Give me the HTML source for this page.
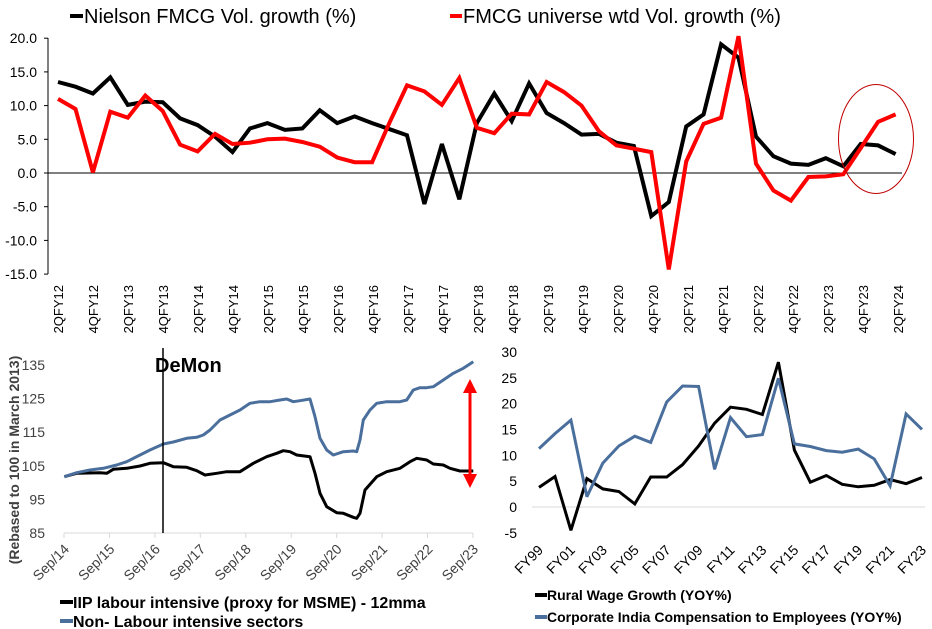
<!DOCTYPE html>
<html><head><meta charset="utf-8"><style>
body{margin:0;background:#fff;}
svg{display:block;font-family:"Liberation Sans",sans-serif;}
</style></head><body>
<svg id="s" width="932" height="629" viewBox="0 0 932 629" xmlns="http://www.w3.org/2000/svg">
<line x1="70" y1="16" x2="83" y2="16" stroke="#000" stroke-width="4"/>
<text x="84" y="23" font-size="20">Nielson FMCG Vol. growth (%)</text>
<line x1="450" y1="16" x2="462" y2="16" stroke="#f00" stroke-width="4"/>
<text x="463" y="23" font-size="20">FMCG universe wtd Vol. growth (%)</text>
<g id="top"></g>
<ellipse cx="876" cy="139" rx="37.5" ry="54.5" fill="none" stroke="#c00000" stroke-width="1"/>
<g id="bl"></g>
<line x1="163" y1="348" x2="163" y2="533" stroke="#000" stroke-width="1.5"/>
<text x="155" y="372" font-size="20" font-weight="bold">DeMon</text>
<text transform="translate(19,460) rotate(-90)" text-anchor="middle" font-size="14" font-weight="bold" fill="#404040">(Rebased to 100 in March 2013)</text>
<line x1="470" y1="388" x2="470" y2="480" stroke="#f00" stroke-width="3"/>
<polygon points="470,379 463,393 477,393" fill="#f00"/>
<polygon points="470,488 463,474 477,474" fill="#f00"/>
<line x1="60" y1="602" x2="73" y2="602" stroke="#000" stroke-width="4"/>
<text x="73" y="608" font-size="16" font-weight="bold">IIP labour intensive (proxy for MSME) - 12mma</text>
<line x1="60" y1="621" x2="73" y2="621" stroke="#4a6f9c" stroke-width="4"/>
<text x="73" y="627" font-size="16" font-weight="bold">Non- Labour intensive sectors</text>
<g id="br"></g>
<line x1="535" y1="595" x2="547" y2="595" stroke="#000" stroke-width="4"/>
<text x="547" y="600" font-size="14" font-weight="bold">Rural Wage Growth (YOY%)</text>
<line x1="535" y1="617" x2="547" y2="617" stroke="#4a6f9c" stroke-width="4"/>
<text x="547" y="622" font-size="14" font-weight="bold">Corporate India Compensation to Employees (YOY%)</text>
</svg>
<script>
var NS="http://www.w3.org/2000/svg";
function el(p,t,a,txt){var e=document.createElementNS(NS,t);for(var k in a)e.setAttribute(k,a[k]);if(txt!=null)e.textContent=txt;p.appendChild(e);return e;}
var g=document.getElementById('top');
var y0=173,sc=6.74,x0=58,dx=17.45;
function ty(v){return y0-v*sc;}
el(g,'line',{x1:48,y1:38,x2:48,y2:274,stroke:'#000','stroke-width':1});
for(var v=20;v>=-15;v-=5){var y=ty(v);el(g,'line',{x1:44,y1:y,x2:48,y2:y,stroke:'#000'});el(g,'text',{x:37,y:y+5,'font-size':14,'text-anchor':'end'},v.toFixed(1));}
el(g,'line',{x1:48,y1:y0,x2:902,y2:y0,stroke:'#000','stroke-width':1});
for(var i=0;i<25;i++){var q=(i%2==0)?2:4;var fy=12+Math.floor(i/2);var x=x0+35*i;el(g,'text',{transform:'translate('+(x+5)+',285) rotate(-90)','text-anchor':'end','font-size':13},q+'QFY'+fy);}
var blk=[13.5,12.8,11.8,14.2,10.1,10.6,10.5,8.1,7.1,5.4,3.1,6.6,7.4,6.4,6.6,9.3,7.4,8.4,7.4,6.5,5.6,-4.6,4.3,-3.9,7.4,11.8,7.7,13.3,8.9,7.4,5.7,5.8,4.5,4.0,-6.4,-4.3,6.9,8.7,19.1,17.1,5.4,2.5,1.4,1.2,2.2,1.0,4.3,4.1,2.8];
var red=[11,9.5,0.1,9.1,8.2,11.5,9.2,4.2,3.2,5.8,4.3,4.5,5.0,5.1,4.6,3.9,2.3,1.6,1.6,7.5,13.0,12.1,10.1,14.1,6.7,5.9,8.8,8.7,13.5,12.0,10.0,6.2,4.1,3.6,3.1,-14.3,1.7,7.3,8.2,20.3,1.4,-2.6,-4.1,-0.6,-0.5,-0.2,3.7,7.6,8.7];
function pl(p,arr,fx,fy,col,w){el(p,'polyline',{points:arr.map(function(v,i){return fx(i).toFixed(1)+','+fy(v).toFixed(1)}).join(' '),fill:'none',stroke:col,'stroke-width':w,'stroke-linejoin':'miter','stroke-miterlimit':3});}
pl(g,blk,function(i){return x0+i*dx},ty,'#000',4);
pl(g,red,function(i){return x0+i*dx},ty,'#f00',4);
var b=document.getElementById('bl');
function by(v){return 533-(v-85)*3.36;}
for(var v=85;v<=135;v+=10){el(b,'text',{x:45,y:by(v)+5,'font-size':14,'text-anchor':'end',fill:'#404040'},v);}
el(b,'line',{x1:64,y1:533,x2:473,y2:533,stroke:'#d9d9d9','stroke-width':1});
for(var i=0;i<10;i++){var x=64+45.44*i;el(b,'line',{x1:x,y1:533,x2:x,y2:538,stroke:'#d9d9d9'});el(b,'text',{transform:'translate('+(x+6)+',550) rotate(-45)','text-anchor':'end','font-size':14,fill:'#404040'},'Sep/'+(14+i));}
var bk=[[193,410],[230,400],[300,398],[320,400],[340,388],[380,385],[420,378],[450,370],[490,368],[520,380],[560,382],[590,392],[615,405],[650,400],[680,395],[720,395],[760,370],[800,350],[830,340],[850,332],[870,335],[890,345],[930,350],[945,400],[960,460],[980,500],[1010,518],[1030,520],[1060,532],[1070,535],[1080,520],[1095,450],[1130,410],[1160,395],[1200,385],[1230,365],[1250,355],[1280,360],[1300,372],[1330,375],[1350,385],[1380,393],[1420,393]];
var bl=[[193,410],[230,398],[270,390],[310,385],[350,375],[380,365],[420,345],[450,330],[490,312],[520,306],[560,295],[590,292],[610,285],[630,270],[660,240],[690,225],[720,210],[750,190],[780,185],[810,185],[840,180],[860,177],[880,185],[900,182],[930,177],[945,230],[960,295],[980,330],[1000,345],[1030,335],[1060,333],[1070,335],[1080,300],[1090,240],[1110,210],[1130,190],[1160,185],[1200,185],[1220,180],[1240,150],[1260,143],[1280,143],[1300,140],[1330,120],[1360,100],[1390,85],[1420,65]];
function zp(a){return a.map(function(p){return (p[0]/3).toFixed(1)+','+(p[1]/3+340).toFixed(1)}).join(' ');}
el(b,'polyline',{points:zp(bk),fill:'none',stroke:'#000','stroke-width':3,'stroke-linejoin':'round'});
el(b,'polyline',{points:zp(bl),fill:'none',stroke:'#4a6f9c','stroke-width':3,'stroke-linejoin':'round'});
var r=document.getElementById('br');
function ry(v){return 507-v*5.17;}
for(var v=-5;v<=30;v+=5){el(r,'text',{x:517,y:ry(v)+5,'font-size':14,'text-anchor':'end',fill:'#000'},v);}
el(r,'line',{x1:532,y1:507,x2:925,y2:507,stroke:'#d9d9d9','stroke-width':1});
for(var i=0;i<13;i++){var yr=99+2*i;var lab='FY'+(yr>=100?('0'+(yr-100)).slice(-2):yr);var x=539+31.92*i;el(r,'text',{transform:'translate('+(x+5)+',551) rotate(-45)','text-anchor':'end','font-size':14},lab);}
var rw=[3.8,5.9,-4.5,5.5,3.5,3.0,0.6,5.8,5.8,8.2,11.8,16.2,19.3,18.9,17.9,28,11,4.8,6.1,4.4,3.9,4.2,5.3,4.5,5.7];
var cc=[11.3,14.2,16.8,2.0,8.5,11.8,13.7,12.5,20.3,23.4,23.3,7.3,17.3,13.6,14.0,24.9,12.2,11.7,10.9,10.6,11.2,9.3,4.1,18.0,15.0];
pl(r,rw,function(i){return 539+i*15.96},ry,'#000',3);
pl(r,cc,function(i){return 539+i*15.96},ry,'#4a6f9c',3);
</script>
</body></html>
